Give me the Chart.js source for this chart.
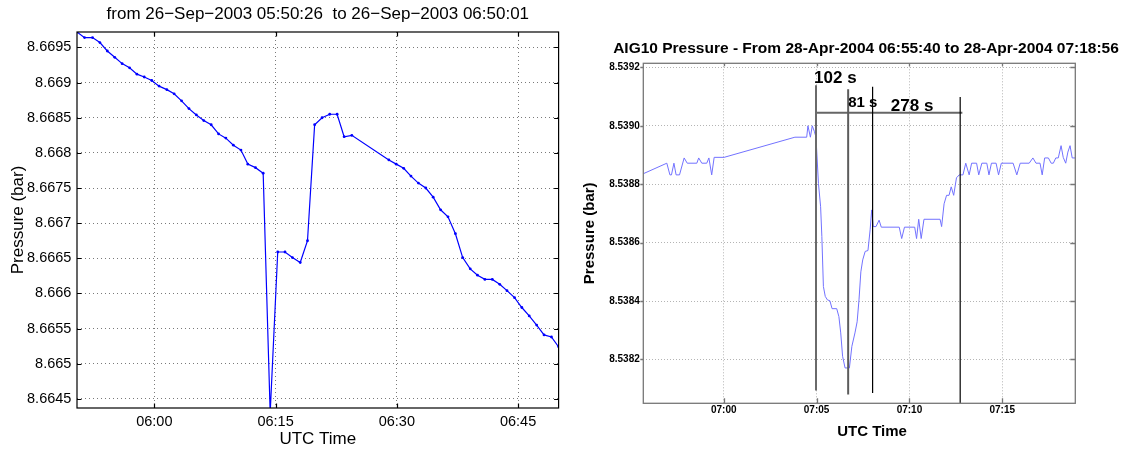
<!DOCTYPE html>
<html><head><meta charset="utf-8">
<script src="https://cdn.jsdelivr.net/npm/chart.js@4.4.1/dist/chart.umd.min.js"></script>
<style>
html,body{margin:0;padding:0;background:#fff;overflow:hidden;width:1123px;height:450px;position:relative}
#c1{position:absolute;left:0;top:0}
#c2{position:absolute;left:560px;top:0}
</style></head><body>
<canvas id="c1" width="560" height="450"></canvas>
<canvas id="c2" width="612" height="450"></canvas>
<script>
// ---------- LEFT CHART DATA ----------
const leftTitle = 'from 26\u2212Sep\u22122003 05:50:26  to 26\u2212Sep\u22122003 06:50:01';
const leftStart = '05:50:26';
const leftEnd = '06:50:01';
const leftYMin = 8.66437;
const leftYMax = 8.66972;
const leftXTicks = ['06:00', '06:15', '06:30', '06:45'];
const leftYTicks = ['8.6645', '8.665', '8.6655', '8.666', '8.6665', '8.667', '8.6675', '8.668', '8.6685', '8.669', '8.6695'];
const leftTimes = ['05:50:26','05:51:22','05:52:21','05:53:16','05:54:11','05:55:06','05:56:01','05:56:56','05:57:51','05:58:45',
  '05:59:41','06:00:35','06:01:33','06:02:27','06:03:22','06:04:17','06:05:12','06:06:07','06:07:02','06:07:57',
  '06:08:51','06:09:47','06:10:43','06:11:34','06:12:31','06:13:28','06:14:20','06:15:16','06:16:10','06:17:05',
  '06:18:03','06:18:57','06:19:50','06:20:45','06:21:42','06:22:37','06:23:29','06:24:26','06:29:01','06:29:56',
  '06:30:51','06:31:45','06:32:40','06:33:35','06:34:30','06:35:25','06:36:20','06:37:15','06:38:09','06:39:05',
  '06:39:59','06:40:54','06:41:49','06:42:44','06:43:38','06:44:34','06:45:28','06:46:23','06:47:18','06:48:13',
  '06:49:08','06:50:01'];
const leftPressure = [8.66972,8.66964,8.66964,8.66957,8.66945,8.66936,8.66927,8.66921,8.66912,8.66908,
  8.66903,8.66895,8.66890,8.66884,8.66874,8.66863,8.66854,8.66846,8.66840,8.66827,
  8.66821,8.66811,8.66804,8.66784,8.66779,8.66771,8.66430,8.66659,8.66659,8.66651,
  8.66644,8.66675,8.66840,8.66850,8.66855,8.66855,8.66823,8.66825,8.66790,8.66784,
  8.66778,8.66767,8.66757,8.66750,8.66737,8.66719,8.66709,8.66685,8.66651,8.66635,
  8.66626,8.66620,8.66620,8.66613,8.66604,8.66594,8.66580,8.66568,8.66555,8.66541,
  8.66538,8.66524];

// ---------- RIGHT CHART DATA ----------
const rightTitle = 'AIG10 Pressure - From 28-Apr-2004 06:55:40 to 28-Apr-2004 07:18:56';
const rightStart = '06:55:40';
const rightEnd = '07:18:56';
const rightYMin = 8.53805;
const rightYMax = 8.539214;
const rightXTicks = ['07:00', '07:05', '07:10', '07:15'];
const rightYTicks = ['8.5382', '8.5384', '8.5386', '8.5388', '8.5390', '8.5392'];
const rightTimes = ['06:55:40','06:56:56','06:57:06','06:57:11','06:57:19','06:57:26','06:57:37','06:57:52','06:58:02','06:58:33',
  '06:58:39','06:58:49','06:59:05','06:59:12','06:59:21','06:59:29','07:00:01','07:03:50','07:04:28','07:04:32',
  '07:04:40','07:04:46','07:04:53','07:04:58','07:05:06','07:05:13','07:05:17','07:05:22','07:05:28','07:05:35',
  '07:05:43','07:05:50','07:06:05','07:06:12','07:06:18','07:06:24','07:06:32','07:06:46','07:06:54','07:07:04',
  '07:07:11','07:07:17','07:07:23','07:07:29','07:07:37','07:07:46','07:07:53','07:07:58','07:08:03','07:08:12',
  '07:08:22','07:08:29','07:09:27','07:09:35','07:09:44','07:10:17','07:10:23','07:10:30','07:10:38','07:10:47',
  '07:11:39','07:11:44','07:11:52','07:12:00','07:12:08','07:12:15','07:12:23','07:12:32','07:12:41','07:12:53',
  '07:13:02','07:13:13','07:13:21','07:13:37','07:13:44','07:13:54','07:14:10','07:14:17','07:14:25','07:14:40',
  '07:14:48','07:14:57','07:15:35','07:15:47','07:15:58','07:16:27','07:16:39','07:16:49','07:17:02','07:17:09',
  '07:17:17','07:17:29','07:17:38','07:17:45','07:17:53','07:18:01','07:18:10','07:18:17','07:18:25','07:18:32',
  '07:18:39','07:18:46','07:18:56'];
const rightPressure = [8.538836,8.538872,8.538832,8.538832,8.538872,8.538832,8.538832,8.538890,8.538872,8.538872,
  8.538890,8.538872,8.538872,8.538890,8.538832,8.538892,8.538892,8.538961,8.538961,8.539000,
  8.538961,8.539000,8.538980,8.538961,8.538803,8.538723,8.538621,8.538450,8.538416,8.538404,
  8.538401,8.538374,8.538374,8.538347,8.538291,8.538211,8.538171,8.538171,8.538245,8.538291,
  8.538329,8.538404,8.538500,8.538541,8.538570,8.538573,8.538644,8.538712,8.538655,8.538655,
  8.538677,8.538653,8.538653,8.538614,8.538653,8.538653,8.538614,8.538680,8.538614,8.538680,
  8.538680,8.538655,8.538733,8.538762,8.538762,8.538791,8.538762,8.538822,8.538832,8.538832,
  8.538872,8.538832,8.538872,8.538872,8.538832,8.538872,8.538872,8.538832,8.538872,8.538872,
  8.538832,8.538872,8.538872,8.538832,8.538872,8.538872,8.538890,8.538872,8.538872,8.538832,
  8.538890,8.538890,8.538872,8.538872,8.538890,8.538890,8.538932,8.538892,8.538872,8.538910,
  8.538932,8.538890,8.538890];

// annotation markers (vertical lines, span line, labels)
const markerTimes = ['07:04:58', '07:06:42', '07:08:01', '07:12:44'];
const markerTop = [8.539139, 8.539125, 8.539134, 8.539099];
const markerBottom = [8.538094, 8.538080, 8.538085, 8.538050];
const markerColors = ['#6a6a6a', '#5c5c5c', '#000000', '#000000'];
const markerWidths = [2, 2, 1.2, 1.2];
const spanTimes = ['07:04:58', '07:12:51'];
const spanLevel = 8.539045;
const spanLabels = ['102 s', '81 s', '278 s'];
const spanLabelTimes = ['07:04:52', '07:06:42', '07:09:00'];
const spanLabelValues = [8.539145, 8.539063, 8.539052];
const spanLabelSizes = [17, 15, 17];

// ---------- helpers ----------
const secs = s => { const p = s.split(':').map(Number); return p[0] * 3600 + p[1] * 60 + (p[2] || 0); };
Chart.defaults.font.family = "'Liberation Sans', Arial, Helvetica, sans-serif";
Chart.defaults.color = '#000';

function tickMarks(chart, color, width, lens) {
  const ctx = chart.ctx, a = chart.chartArea, xs = chart.scales.x, ys = chart.scales.y;
  ctx.save();
  ctx.strokeStyle = color; ctx.lineWidth = width; ctx.beginPath();
  xs.ticks.forEach(t => {
    const px = Math.round(xs.getPixelForValue(t.value)) + 0.5;
    ctx.moveTo(px, a.bottom); ctx.lineTo(px, a.bottom - lens.bottom);
    ctx.moveTo(px, a.top); ctx.lineTo(px, a.top + lens.top);
  });
  ys.ticks.forEach(t => {
    const py = Math.round(ys.getPixelForValue(t.value)) + 0.5;
    ctx.moveTo(a.left, py); ctx.lineTo(a.left + lens.left, py);
    ctx.moveTo(a.right, py); ctx.lineTo(a.right - lens.right, py);
  });
  ctx.stroke();
  ctx.strokeRect(a.left, a.top, a.right - a.left, a.bottom - a.top);
  ctx.restore();
}

const leftFrame = {
  id: 'leftFrame',
  afterDatasetsDraw(chart) { tickMarks(chart, '#000', 1.2, {top: 4.5, bottom: 4.5, left: 4.5, right: 4.5}); }
};

const rightDecor = {
  id: 'rightDecor',
  afterDatasetsDraw(chart) {
    tickMarks(chart, '#777', 1.3, {top: 3, bottom: 5, left: -3, right: 5});
    const ctx = chart.ctx, xs = chart.scales.x, ys = chart.scales.y, a = chart.chartArea;
    ctx.save();
    ctx.fillStyle = '#000';
    ctx.textAlign = 'left';
    ctx.textBaseline = 'alphabetic';
    spanLabels.forEach((txt, i) => {
      ctx.font = "bold " + spanLabelSizes[i] + "px 'Liberation Sans', Arial, sans-serif";
      ctx.fillText(txt, xs.getPixelForValue(secs(spanLabelTimes[i])), ys.getPixelForValue(spanLabelValues[i]));
    });
    ctx.font = "bold 15px 'Liberation Sans', Arial, sans-serif";
    ctx.textAlign = 'center';
    ctx.textBaseline = 'middle';
    ctx.fillText('UTC Time', (a.left + a.right) / 2 + 12.7, 431.7);
    ctx.restore();
  }
};

// ---------- LEFT CHART ----------
new Chart(document.getElementById('c1'), {
  type: 'line',
  data: {
    datasets: [{
      data: leftTimes.map((t, i) => ({x: secs(t), y: leftPressure[i]})),
      borderColor: '#0000ff', backgroundColor: '#0000ff', borderWidth: 1.2,
      pointRadius: 1.4, pointHoverRadius: 1.4, pointBorderWidth: 0, tension: 0, fill: false
    }]
  },
  options: {
    responsive: false, animation: false, devicePixelRatio: 1, events: [],
    layout: {padding: 0},
    plugins: {
      legend: {display: false}, tooltip: {enabled: false},
      title: {display: true, fullSize: false, text: leftTitle, color: '#000',
        font: {size: 17, weight: 'normal', lineHeight: 1.2}, padding: {top: 4, bottom: 7.6}}
    },
    scales: {
      x: {
        type: 'linear', min: secs(leftStart), max: secs(leftEnd),
        afterBuildTicks: s => { s.ticks = leftXTicks.map(t => ({value: secs(t)})); },
        afterFit: s => { s.height = 42; },
        ticks: {callback: (v, i) => leftXTicks[i], color: '#000', font: {size: 14.5}, padding: 5.3, maxRotation: 0, autoSkip: false},
        grid: {color: '#7a7a7a', lineWidth: 1, drawTicks: false},
        border: {display: false, dash: [1, 3]},
        title: {display: true, text: 'UTC Time', color: '#000', font: {size: 17}, padding: {top: 0, bottom: 0.8}}
      },
      y: {
        type: 'linear', min: leftYMin, max: leftYMax,
        afterBuildTicks: s => { s.ticks = leftYTicks.map(t => ({value: parseFloat(t)})); },
        afterFit: s => { s.width = 77; },
        ticks: {callback: (v, i) => leftYTicks[i], color: '#000', font: {size: 14.5}, padding: 5.6, autoSkip: false},
        grid: {color: '#7a7a7a', lineWidth: 1, drawTicks: false},
        border: {display: false, dash: [1, 3]},
        title: {display: true, text: 'Pressure (bar)', color: '#000', font: {size: 17}, padding: {top: 7.8, bottom: 0}}
      }
    }
  },
  plugins: [leftFrame]
});

// ---------- RIGHT CHART ----------
const rightDatasets = [];
markerTimes.forEach((t, i) => {
  rightDatasets.push({
    data: [{x: secs(t), y: markerTop[i]}, {x: secs(t), y: markerBottom[i]}],
    borderColor: markerColors[i], borderWidth: markerWidths[i], pointRadius: 0, tension: 0, fill: false, order: 0
  });
});
rightDatasets.push({
  data: [{x: secs(spanTimes[0]), y: spanLevel}, {x: secs(spanTimes[1]), y: spanLevel}],
  borderColor: '#666666', borderWidth: 2, pointRadius: 0, tension: 0, fill: false, order: 0
});
rightDatasets.push({
  data: rightTimes.map((t, i) => ({x: secs(t), y: rightPressure[i]})),
  borderColor: '#7272ff', borderWidth: 1, pointRadius: 0, tension: 0, fill: false, order: 1
});

new Chart(document.getElementById('c2'), {
  type: 'line',
  data: {datasets: rightDatasets},
  options: {
    responsive: false, animation: false, devicePixelRatio: 1, events: [],
    layout: {padding: 0},
    plugins: {
      legend: {display: false}, tooltip: {enabled: false},
      title: {display: true, text: rightTitle, color: '#000',
        font: {size: 15.5, weight: 'bold', lineHeight: 1.2}, padding: {top: 39.7, bottom: 5}}
    },
    scales: {
      x: {
        type: 'linear', min: secs(rightStart), max: secs(rightEnd),
        afterBuildTicks: s => { s.ticks = rightXTicks.map(t => ({value: secs(t)})); },
        afterFit: s => { s.height = 46.7; },
        ticks: {callback: (v, i) => rightXTicks[i], color: '#000', font: {size: 10, weight: 'bold'}, padding: 1.3, maxRotation: 0, autoSkip: false},
        grid: {color: '#b4b4b4', lineWidth: 1, drawTicks: false},
        border: {display: false, dash: [1, 2]}
      },
      y: {
        type: 'linear', min: rightYMin, max: rightYMax,
        afterBuildTicks: s => { s.ticks = rightYTicks.map(t => ({value: parseFloat(t)})); },
        afterFit: s => { s.width = 83.3; },
        ticks: {callback: (v, i) => rightYTicks[i], color: '#000', font: {size: 10, weight: 'bold'}, padding: 3.5, autoSkip: false},
        grid: {color: '#b4b4b4', lineWidth: 1, drawTicks: false},
        border: {display: false, dash: [1, 2]},
        title: {display: true, text: 'Pressure (bar)', color: '#000', font: {size: 15, weight: 'bold'}, padding: {top: 21, bottom: 0}}
      },
      yPad: {
        type: 'linear', position: 'right', display: true,
        min: rightYMin, max: rightYMax,
        afterFit: s => { s.width = 96.7; },
        ticks: {display: false}, grid: {display: false}, border: {display: false}
      }
    }
  },
  plugins: [rightDecor]
});
</script></body></html>
